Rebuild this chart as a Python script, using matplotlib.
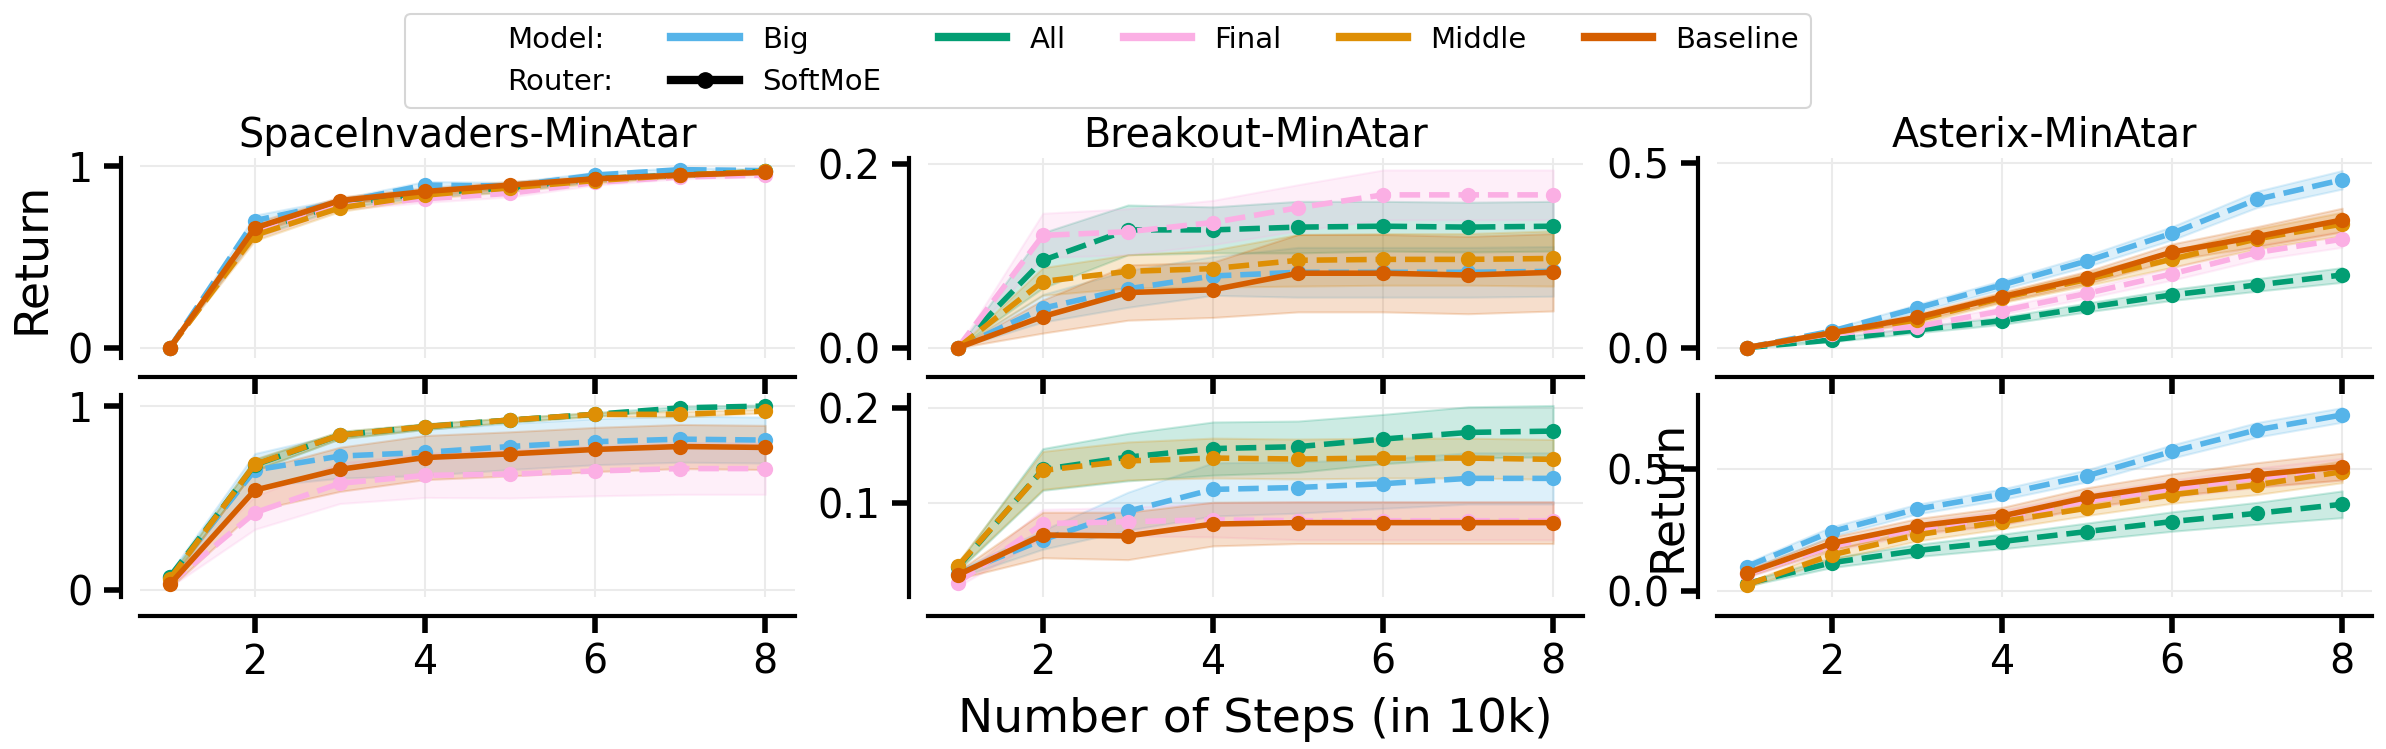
import matplotlib
matplotlib.use("Agg")
import matplotlib.pyplot as plt
from matplotlib.lines import Line2D
import numpy as np

steps = [1, 2, 3, 4, 5, 6, 7, 8]
models = ["Big", "All", "Final", "Middle", "Baseline"]
colors = {"Big": "#56B4E9", "All": "#029E73", "Final": "#FBAFE4",
          "Middle": "#DE8F05", "Baseline": "#D55E00"}
games = ["SpaceInvaders-MinAtar", "Breakout-MinAtar", "Asterix-MinAtar"]

# top row: mean return, and half width of the shaded band
si_top = {"Big": [0, .70, .80, .895, .89, .95, .98, .975],
          "All": [0, .64, .79, .85, .88, .93, .95, .97],
          "Final": [0, .63, .78, .82, .85, .91, .94, .95],
          "Middle": [0, .62, .77, .84, .88, .92, .95, .97],
          "Baseline": [0, .66, .81, .86, .895, .93, .95, .965]}
si_top_ci = {m: [0, .03, .02, .02, .02, .015, .01, .01] for m in models}

br_top = {"Big": [0, .043, .064, .078, .082, .082, .082, .083],
          "All": [0, .095, .128, .128, .131, .132, .131, .132],
          "Final": [0, .122, .126, .136, .152, .166, .166, .166],
          "Middle": [0, .072, .083, .086, .095, .096, .096, .097],
          "Baseline": [0, .034, .060, .063, .081, .081, .079, .082]}
br_top_ci = {"Big": [0, .015, .02, .021, .027, .027, .027, .027],
             "All": [0, .03, .027, .025, .028, .027, .027, .027],
             "Final": [0, .024, .025, .024, .025, .027, .027, .027],
             "Middle": [0, .015, .018, .02, .028, .028, .028, .03],
             "Baseline": [0, .018, .03, .03, .042, .042, .042, .042]}

as_top = {"Big": [0, .045, .107, .17, .235, .31, .402, .455],
          "All": [0, .021, .048, .073, .109, .143, .17, .197],
          "Final": [0, .038, .057, .10, .147, .20, .258, .294],
          "Middle": [0, .04, .075, .135, .185, .24, .295, .335],
          "Baseline": [0, .04, .082, .138, .19, .259, .301, .346]}
as_top_ci = {"Big": [0, .006, .01, .012, .015, .018, .022, .025],
             "All": [0, .005, .008, .01, .012, .015, .017, .02],
             "Final": [0, .005, .008, .01, .013, .017, .02, .022],
             "Middle": [0, .005, .01, .013, .017, .022, .027, .032],
             "Baseline": [0, .005, .01, .013, .017, .022, .027, .032]}

# bottom row
si_bot = {"Big": [.072, .652, .728, .748, .78, .806, .82, .815],
          "All": [.07, .68, .842, .888, .924, .955, .99, 1.0],
          "Final": [.036, .42, .58, .623, .63, .647, .66, .66],
          "Middle": [.06, .683, .842, .888, .924, .955, .955, .973],
          "Baseline": [.03, .543, .656, .72, .74, .764, .78, .775]}
si_bot_ci = {"Big": [.02, .09, .12, .125, .125, .125, .125, .125],
             "All": [.01, .03, .02, .015, .012, .01, .008, .006],
             "Final": [.02, .09, .11, .12, .13, .135, .14, .14],
             "Middle": [.01, .03, .02, .015, .012, .01, .015, .01],
             "Baseline": [.02, .11, .12, .12, .12, .12, .12, .12]}

br_bot = {"Big": [.025, .061, .091, .114, .116, .12, .1256, .1256],
          "All": [.032, .135, .148, .157, .159, .167, .174, .1754],
          "Final": [.0158, .078, .080, .082, .081, .081, .081, .081],
          "Middle": [.0333, .134, .144, .147, .146, .147, .147, .1456],
          "Baseline": [.0239, .066, .065, .0775, .079, .079, .079, .079]}
br_bot_ci = {"Big": [.004, .01, .02, .028, .027, .026, .027, .027],
             "All": [.004, .022, .025, .028, .027, .026, .027, .027],
             "Final": [.004, .015, .015, .018, .02, .02, .02, .02],
             "Middle": [.004, .02, .02, .021, .021, .021, .021, .021],
             "Baseline": [.004, .024, .025, .023, .022, .022, .022, .022]}

as_bot = {"Big": [.10, .244, .336, .397, .473, .573, .662, .723],
          "All": [.03, .116, .166, .203, .244, .285, .319, .356],
          "Final": [.07, .185, .255, .30, .37, .42, .465, .50],
          "Middle": [.025, .148, .23, .285, .34, .395, .436, .49],
          "Baseline": [.073, .196, .267, .308, .384, .436, .477, .511]}
as_bot_ci = {"Big": [.015, .02, .02, .022, .025, .027, .03, .03],
             "All": [.01, .02, .025, .03, .035, .04, .045, .055],
             "Final": [.015, .02, .025, .03, .03, .035, .04, .045],
             "Middle": [.01, .02, .025, .03, .03, .035, .04, .045],
             "Baseline": [.015, .025, .03, .035, .04, .045, .05, .055]}

panels = [[(si_top, si_top_ci), (br_top, br_top_ci), (as_top, as_top_ci)],
          [(si_bot, si_bot_ci), (br_bot, br_bot_ci), (as_bot, as_bot_ci)]]
yticks = [[[0, 1], [0.0, 0.2], [0.0, 0.5]],
          [[0, 1], [0.1, 0.2], [0.0, 0.5]]]
yticklabels = [[["0", "1"], ["0.0", "0.2"], ["0.0", "0.5"]],
               [["0", "1"], ["0.1", "0.2"], ["0.0", "0.5"]]]
ylims = [[(-0.055, 1.044), (-0.011, 0.206), (-0.028, 0.514)],
         [(-0.038, 1.06), (0.0007, 0.2134), (-0.025, 0.805)]]

W, H = 2386, 749
fig = plt.figure(figsize=(W / 100, H / 100), dpi=100)
col_left = [140, 928, 1717]
row_bottom = [358, 597]
row_height = [200, 202]
ax_w = 655

axes = []
for r in range(2):
    row = []
    for c in range(3):
        ax = fig.add_axes([col_left[c] / W, 1 - row_bottom[r] / H,
                           ax_w / W, row_height[r] / H])
        mean_d, ci_d = panels[r][c]
        for m in models:
            y = np.array(mean_d[m])
            e = np.array(ci_d[m])
            ax.fill_between(steps, y - e, y + e, color=colors[m], alpha=0.2,
                            lw=1.5, zorder=2)
            ax.plot(steps, y, color=colors[m], lw=4, marker="o",
                    markersize=11, markeredgewidth=0,
                    linestyle="-" if m == "Baseline" else "--", zorder=3)
        ax.set_ylim(*ylims[r][c])
        ax.set_xlim(0.65, 8.35)
        ax.set_xticks([2, 4, 6, 8])
        ax.set_yticks(yticks[r][c])
        ax.set_yticklabels(yticklabels[r][c])
        ax.grid(True, color="#EBEBEB", lw=1.5, zorder=0)
        ax.set_axisbelow(True)
        for s in ["top", "right"]:
            ax.spines[s].set_visible(False)
        ax.spines["left"].set_position(("outward", 14))
        ax.spines["bottom"].set_position(("outward", 14))
        ax.spines["left"].set_linewidth(3)
        ax.spines["bottom"].set_linewidth(3)
        ax.tick_params(axis="both", width=4, length=12, labelsize=28.5)
        ax.tick_params(axis="y", pad=8)
        ax.tick_params(axis="x", pad=7)
        if r == 0:
            ax.set_title(games[c], fontsize=28.5, pad=8)
            ax.tick_params(axis="x", labelbottom=False)
        row.append(ax)
    axes.append(row)

axes[0][0].set_ylabel("Return", fontsize=33, labelpad=10)
axes[1][2].set_ylabel("Return", fontsize=33)
axes[1][2].yaxis.set_label_coords(-0.041, 0.5)
axes[1][1].set_xlabel("Number of Steps (in 10k)", fontsize=34, labelpad=10)

# legend: model colours and router style
blank = Line2D([], [], color="none")
handles = [blank, blank,
           Line2D([], [], color=colors["Big"], lw=6), Line2D([], [], color="black", lw=6, marker="o", markersize=11),
           Line2D([], [], color=colors["All"], lw=6), blank,
           Line2D([], [], color=colors["Final"], lw=6), blank,
           Line2D([], [], color=colors["Middle"], lw=6), blank,
           Line2D([], [], color=colors["Baseline"], lw=6), blank]
labels = ["Model:", "Router:", "Big", "SoftMoE", "All", "", "Final", "",
          "Middle", "", "Baseline", ""]
leg = fig.legend(handles, labels, ncol=6, loc="upper left",
                 bbox_to_anchor=(405 / W, 1 - 14 / H), fontsize=21,
                 handlelength=2.3, borderaxespad=0, frameon=True)
leg.get_frame().set_linewidth(1.5)

fig.savefig("out.png", dpi=100)
